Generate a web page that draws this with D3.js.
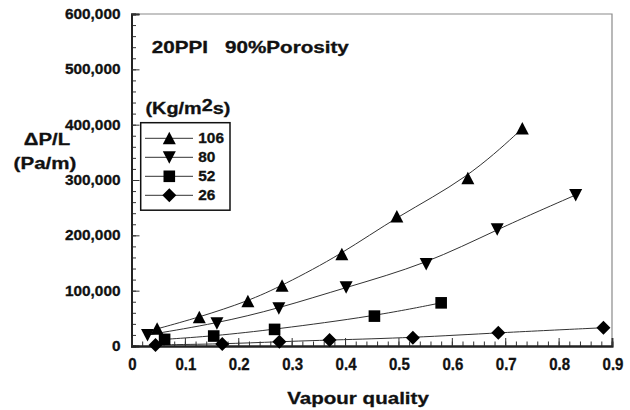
<!DOCTYPE html>
<html>
<head>
<meta charset="utf-8">
<script src="https://cdn.jsdelivr.net/npm/d3@7"></script>
<style>
  html, body { margin: 0; padding: 0; background: #fff; }
  text { font-family: "Liberation Sans", Arial, Helvetica, sans-serif; font-weight: bold; fill: #111; stroke: #111; stroke-width: 0.3px; }
</style>
</head>
<body>
<svg id="chart" width="630" height="410"></svg>
<script>
// ---- data ----
const seriesNames = ["106", "80", "52", "26"];
const quality106 = [0.048, 0.127, 0.218, 0.282, 0.394, 0.497, 0.630, 0.732];
const dp106      = [31000, 52000, 81000, 109000, 166000, 234000, 303000, 393000];
const quality80  = [0.030, 0.160, 0.276, 0.402, 0.552, 0.685, 0.832];
const dp80       = [20000, 41000, 68000, 106000, 148000, 211000, 273000];
const quality52  = [0.062, 0.154, 0.268, 0.455, 0.580];
const dp52       = [12000, 18000, 30000, 54000, 78000];
const quality26  = [0.045, 0.170, 0.277, 0.371, 0.527, 0.687, 0.884];
const dp26       = [2000, 3600, 7800, 10800, 15000, 24000, 33000];
const xTickValues = [0, 0.1, 0.2, 0.3, 0.4, 0.5, 0.6, 0.7, 0.8, 0.9];
const xTickLabels = ["0", "0.1", "0.2", "0.3", "0.4", "0.5", "0.6", "0.7", "0.8", "0.9"];
const yTickValues = [0, 100000, 200000, 300000, 400000, 500000, 600000];
const yTickLabels = ["0", "100,000", "200,000", "300,000", "400,000", "500,000", "600,000"];

const series = [
  { name: seriesNames[0], xs: quality106, ys: dp106, shape: "up" },
  { name: seriesNames[1], xs: quality80,  ys: dp80,  shape: "down" },
  { name: seriesNames[2], xs: quality52,  ys: dp52,  shape: "square" },
  { name: seriesNames[3], xs: quality26,  ys: dp26,  shape: "diamond" }
];

const svg = d3.select("#chart");
const x = d3.scaleLinear().domain([0, 0.9]).range([131.5, 612]);
const y = d3.scaleLinear().domain([0, 600000]).range([346, 14]);

// frame (top/right grey)
svg.append("path")
  .attr("d", `M${x(0)},${y(600000)} H${x(0.9)} V${y(0)}`)
  .attr("fill", "none").attr("stroke", "#8a8a8a").attr("stroke-width", 1.2);

// minor ticks
const yMinor = d3.range(0, 600001, 20000);
const xMinor = d3.range(0, 46).map(i => i * 0.02);
const yAxisMinor = d3.axisLeft(y).tickValues(yMinor).tickSize(-4.5).tickFormat("");
const yAxisMajor = d3.axisLeft(y).tickValues(yTickValues).tickSize(-8).tickFormat("");
const xAxisMinor = d3.axisBottom(x).tickValues(xMinor).tickSize(-4.5).tickFormat("");
const xAxisMajor = d3.axisBottom(x).tickValues(xTickValues).tickSize(-8).tickFormat("");

function styleAxis(g) {
  g.selectAll("path.domain").attr("stroke", "#222").attr("stroke-width", 1.8);
  g.selectAll(".tick line").attr("stroke", "#333").attr("stroke-width", 1);
}
svg.append("g").attr("transform", `translate(${x(0)},0)`).call(yAxisMinor).call(styleAxis);
svg.append("g").attr("transform", `translate(${x(0)},0)`).call(yAxisMajor).call(styleAxis);
svg.append("g").attr("transform", `translate(0,${y(0)})`).call(xAxisMinor).call(styleAxis);
svg.append("g").attr("transform", `translate(0,${y(0)})`).call(xAxisMajor).call(styleAxis);

// text helper with horizontal stretch
function label(px, py, str, size, sx, anchor) {
  return svg.append("text")
    .attr("transform", `translate(${px},${py}) scale(${sx},1)`)
    .attr("text-anchor", anchor || "start")
    .style("font-size", size + "px")
    .text(str);
}

// tick labels
yTickValues.forEach((v, i) => label(120.5, y(v) + 5, yTickLabels[i], 14, 1.1, "end"));
xTickValues.forEach((v, i) => label(x(v) + 1, 370, xTickLabels[i], 16, 0.94, "middle"));

// axis titles
label(358, 404, "Vapour quality", 17, 1.21, "middle");
label(47, 145, "\u0394P/L", 17, 1.2, "middle");
label(45, 169, "(Pa/m)", 17, 1.21, "middle");

// annotations
label(151.7, 53.3, "20PPI", 16, 1.29, "start");
label(225, 53.3, "90%Porosity", 16, 1.29, "start");
const unit = label(145.5, 113.5, "(Kg/m", 16, 1.24, "start");
unit.append("tspan").attr("dy", -3).text("2");
unit.append("tspan").attr("dy", 3).text("s)");

// marker shapes
function shapePath(shape) {
  if (shape === "up")     return "M-6.5,6 L6.5,6 L0,-6.5 Z";
  if (shape === "down")   return "M-6.5,-6 L6.5,-6 L0,6.5 Z";
  if (shape === "square") return "M-5.8,-5.8 H5.8 V5.8 H-5.8 Z";
  return "M0,-7 L7,0 L0,7 L-7,0 Z";
}

// lines (smoothed trend through the points)
const line = d3.line().x(d => x(d[0])).y(d => y(d[1])).curve(d3.curveBasis);
series.forEach(s => {
  const pts = s.xs.map((q, i) => [q, s.ys[i]]);
  svg.append("path").attr("d", line(pts))
    .attr("fill", "none").attr("stroke", "#333").attr("stroke-width", 1);
});
// markers
series.forEach(s => {
  svg.append("g").selectAll("path")
    .data(s.xs.map((q, i) => [q, s.ys[i]]))
    .join("path")
    .attr("transform", d => `translate(${x(d[0])},${y(d[1])})`)
    .attr("d", shapePath(s.shape))
    .attr("fill", "#000");
});

// legend
const lg = svg.append("g");
lg.append("rect").attr("x", 140.7).attr("y", 122.7).attr("width", 89.3).attr("height", 87.5)
  .attr("fill", "#fff").attr("stroke", "#111").attr("stroke-width", 1.5);
series.forEach((s, i) => {
  const cy = 138.3 + i * 19;
  lg.append("line").attr("x1", 145).attr("x2", 193).attr("y1", cy).attr("y2", cy)
    .attr("stroke", "#333").attr("stroke-width", 1);
  lg.append("path").attr("transform", `translate(169.3,${cy})`).attr("d", shapePath(s.shape)).attr("fill", "#000");
  label(198.3, cy + 5, s.name, 14, 1.1, "start");
});
</script>
</body>
</html>
